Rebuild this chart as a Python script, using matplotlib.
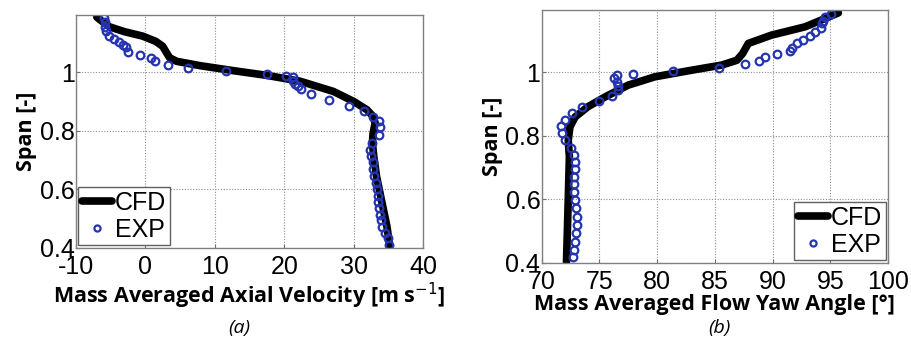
import matplotlib
matplotlib.use("Agg")
import matplotlib.pyplot as plt

# ---- Panel (a): axial velocity ----
cfd_a_x = [-7.0, -6.6, -5.2, -3.0, -0.4, 1.5, 2.5, 3.0, 3.5, 4.5, 7.9, 12.7, 17.5, 22.3, 27.1,
           30.0, 31.9, 32.8, 33.1, 32.8, 32.7, 32.9, 33.3, 34.0, 34.8, 35.2]
cfd_a_y = [1.188, 1.18, 1.155, 1.138, 1.123, 1.105, 1.088, 1.068, 1.049, 1.037, 1.022, 1.005, 0.989,
           0.969, 0.934, 0.900, 0.872, 0.849, 0.826, 0.792, 0.758, 0.712, 0.644, 0.564, 0.473, 0.404]
exp_a_x = [-5.9, -5.8, -5.8, -5.7, -5.2, -4.5, -3.8, -3.2, -2.8, -2.5, -0.8, 0.8, 1.4, 3.2, 6.1,
           11.6, 17.5, 20.3, 21.2, 21.3, 21.5, 22.0, 22.4, 23.8, 26.5, 29.3, 31.5, 32.8,
           33.6, 33.8, 33.6, 32.6, 32.3, 32.5, 32.8, 32.8, 33.0, 33.2, 33.3, 33.5, 33.5,
           33.7, 33.8, 33.9, 34.1, 34.5, 34.9, 35.1]
exp_a_y = [1.185, 1.17, 1.155, 1.14, 1.125, 1.113, 1.103, 1.094, 1.085, 1.068, 1.06, 1.049, 1.037,
           1.026, 1.014, 1.003, 0.995, 0.988, 0.985, 0.97, 0.96, 0.952, 0.943, 0.927, 0.906,
           0.886, 0.866, 0.847, 0.832, 0.812, 0.786, 0.758, 0.735, 0.714, 0.692, 0.669, 0.646,
           0.623, 0.601, 0.578, 0.558, 0.536, 0.513, 0.496, 0.473, 0.452, 0.433, 0.41]

# ---- Panel (b): flow yaw angle ----
cfd_b_x = [72.15, 72.3, 72.4, 72.3, 72.45, 72.9, 74.0, 75.5, 77.5, 79.8, 82.7, 85.6, 86.9,
           87.4, 87.9, 89.9, 92.8, 94.2, 95.7]
cfd_b_y = [0.404, 0.598, 0.734, 0.786, 0.828, 0.859, 0.891, 0.922, 0.959, 0.985, 1.004, 1.022,
           1.037, 1.058, 1.090, 1.116, 1.142, 1.163, 1.186]
exp_b_x = [72.7, 72.8, 72.9, 73.0, 73.05, 73.1, 73.0, 72.9, 72.8, 72.8, 72.8, 72.9, 72.9, 72.8,
           72.5, 72.0, 71.8, 71.7, 72.0, 72.6, 73.5, 75.0, 76.1, 76.6, 76.6, 76.5, 76.3, 76.5,
           77.9, 81.4, 85.4, 87.6, 88.8, 89.3, 90.4, 91.5, 91.7, 92.1, 92.6, 93.2, 93.7, 94.2,
           94.3, 94.4, 94.5, 95.1]
exp_b_y = [0.418, 0.441, 0.467, 0.493, 0.519, 0.545, 0.572, 0.598, 0.624, 0.648, 0.671, 0.694,
           0.718, 0.739, 0.760, 0.786, 0.809, 0.830, 0.849, 0.870, 0.889, 0.909, 0.924, 0.943,
           0.956, 0.969, 0.980, 0.990, 0.993, 1.003, 1.013, 1.025, 1.035, 1.046, 1.058, 1.067,
           1.076, 1.090, 1.102, 1.114, 1.126, 1.140, 1.153, 1.161, 1.174, 1.182]

xticks_a = [-10, 0, 10, 20, 30, 40]
xticks_b = [70, 75, 80, 85, 90, 95, 100]
yticks = [0.4, 0.6, 0.8, 1.0]
ytick_labels = ["0.4", "0.6", "0.8", "1"]

plt.rcParams['font.family'] = ['Liberation Sans', 'DejaVu Sans']

fig = plt.figure(figsize=(9.11, 3.38), dpi=100)
ax1 = fig.add_axes([0.0834, 0.2663, 0.381, 0.6893])
ax2 = fig.add_axes([0.5946, 0.2219, 0.3802, 0.7485])

blue = '#2535b0'
label_font = dict(family=['Open Sans', 'DejaVu Sans'], fontweight='bold', fontsize=15.5)
tick_fs = 18


def style(ax, xticks, xlim):
    ax.set_xlim(*xlim)
    ax.set_ylim(0.4, 1.195)
    ax.set_xticks(xticks)
    ax.set_xticklabels([str(t) for t in xticks])
    ax.set_yticks(yticks)
    ax.set_yticklabels(ytick_labels)
    ax.grid(True, linestyle=(0, (1, 1.5)), color='#909090', linewidth=0.8)
    ax.tick_params(direction='in', length=3, labelsize=tick_fs, color='#707070', pad=1)
    ax.tick_params(axis='x', pad=5)
    for s in ax.spines.values():
        s.set_color('#808080')
        s.set_linewidth(1.0)


ax1.plot(cfd_a_x, cfd_a_y, color='black', lw=5.5, solid_capstyle='round', label='CFD')
ax1.plot(exp_a_x, exp_a_y, 'o', mfc='none', mec=blue, ms=5.5, mew=1.6, label='EXP')
style(ax1, xticks_a, (-10, 40))
ax1.set_xlabel('Mass Averaged Axial Velocity [m s$^{-1}$]', labelpad=1, **label_font)
ax1.set_ylabel('Span [-]', labelpad=2, **label_font)
leg1 = ax1.legend(loc='lower left', fontsize=tick_fs, handlelength=1.2, handletextpad=0.1,
                  borderpad=0.15, labelspacing=0.1, borderaxespad=0.1, fancybox=False,
                  framealpha=1, markerscale=0.8)
leg1.get_frame().set_edgecolor('#606060')

ax2.plot(cfd_b_x, cfd_b_y, color='black', lw=5.5, solid_capstyle='round', label='CFD')
ax2.plot(exp_b_x, exp_b_y, 'o', mfc='none', mec=blue, ms=5.5, mew=1.6, label='EXP')
style(ax2, xticks_b, (70, 100))
ax2.set_xlabel('Mass Averaged Flow Yaw Angle [°]', labelpad=0, **label_font)
ax2.set_ylabel('Span [-]', labelpad=2, **label_font)
leg2 = ax2.legend(loc='lower right', fontsize=tick_fs, handlelength=1.2, handletextpad=0.1,
                  borderpad=0.15, labelspacing=0.1, borderaxespad=0.1, fancybox=False,
                  framealpha=1, markerscale=0.8)
leg2.get_frame().set_edgecolor('#606060')

fig.text(0.263, 0.03, '(a)', style='italic', fontsize=14, ha='center', va='center',
         family=['Open Sans', 'DejaVu Sans'])
fig.text(0.79, 0.03, '(b)', style='italic', fontsize=14, ha='center', va='center',
         family=['Open Sans', 'DejaVu Sans'])

fig.savefig('out.png', dpi=100)
